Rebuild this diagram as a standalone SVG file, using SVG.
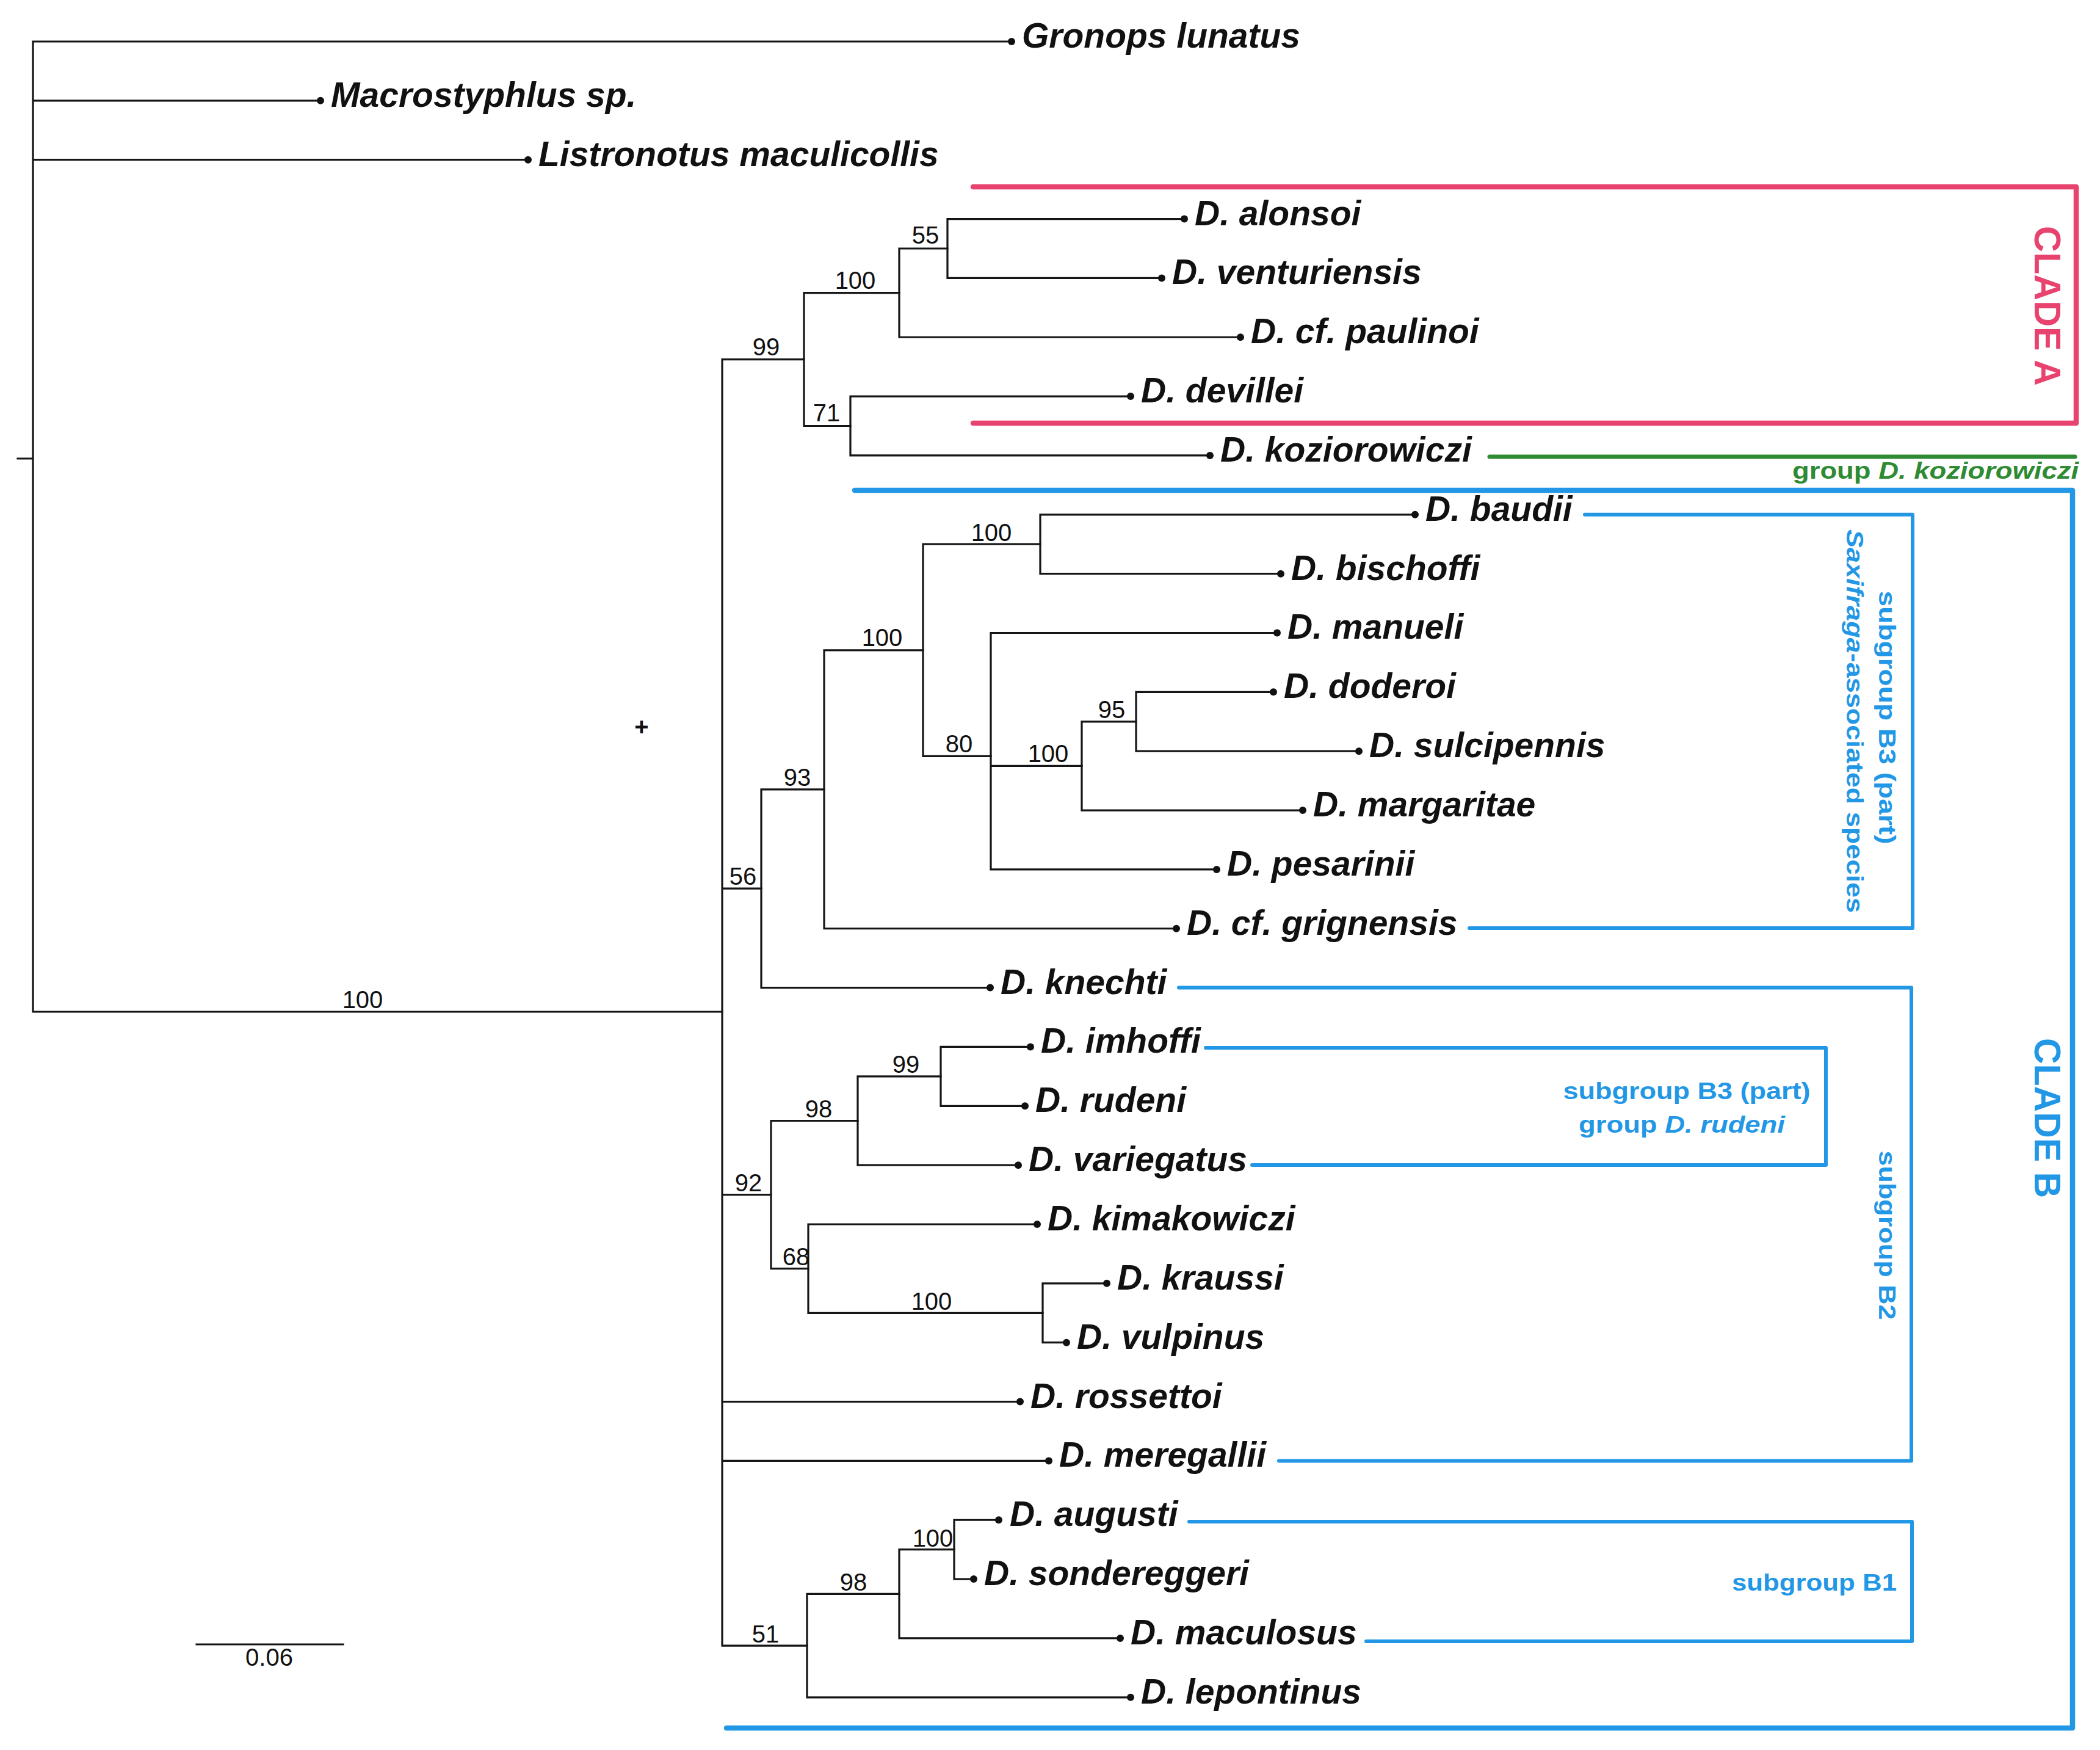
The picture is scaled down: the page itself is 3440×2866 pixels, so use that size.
<svg xmlns="http://www.w3.org/2000/svg" width="3440" height="2866" viewBox="0 0 3440 2866">
<style>
.br{fill:none;stroke:#151515;stroke-width:3.2;stroke-linecap:square}
.dot{fill:#111}
.sp{font-family:"Liberation Sans",Arial,sans-serif;font-weight:bold;font-style:italic;font-size:57px;fill:#111}
.bs{font-family:"Liberation Sans",Arial,sans-serif;font-size:40px;fill:#111;text-anchor:middle}
.cladeA{fill:none;stroke:#E8426E;stroke-width:8.5;stroke-linecap:round;stroke-linejoin:round}
.cladeB{fill:none;stroke:#2297E6;stroke-width:8.5;stroke-linecap:round;stroke-linejoin:round}
.sub{fill:none;stroke:#2297E6;stroke-width:6;stroke-linecap:round;stroke-linejoin:round}
.grn{fill:none;stroke:#2E8B34;stroke-width:7;stroke-linecap:round}
.lbl{font-family:"Liberation Sans",Arial,sans-serif;font-weight:bold;font-size:39px}
.blue{fill:#2297E6}
.green{fill:#2E8B34}
.ctitle{font-family:"Liberation Sans",Arial,sans-serif;font-weight:bold;font-size:62px;text-anchor:middle}
</style>
<rect width="3440" height="2866" fill="#fff"/>

<g id="connectors">
  <path class="br" d="M54,68 V1657 M54,68 H1657 M54,164.85 H525 M54,261.7 H865 M54,1657 H1183 M29,751 H54"/>
  <path class="br" d="M1183,588.6 V2695.1 M1183,588.6 H1317 M1183,1455.2 H1247 M1183,1956.6 H1263 M1183,2295.55 H1671 M1183,2392.4 H1718 M1183,2695.1 H1322"/>
  <path class="br" d="M1317,479.6 V697.5 M1317,479.6 H1473 M1317,697.5 H1393"/>
  <path class="br" d="M1473,407 V552.25 M1473,407 H1552 M1473,552.25 H2032"/>
  <path class="br" d="M1552,358.55 V455.4 M1552,358.55 H1940 M1552,455.4 H1903"/>
  <path class="br" d="M1393,649.1 V745.95 M1393,649.1 H1852 M1393,745.95 H1982"/>
  <path class="br" d="M1247,1292.8 V1617.6 M1247,1292.8 H1350 M1247,1617.6 H1622"/>
  <path class="br" d="M1350,1064.8 V1520.75 M1350,1064.8 H1512 M1350,1520.75 H1927"/>
  <path class="br" d="M1512,891.2 V1238.3 M1512,891.2 H1704 M1512,1238.3 H1623"/>
  <path class="br" d="M1704,842.8 V939.65 M1704,842.8 H2318 M1704,939.65 H2098"/>
  <path class="br" d="M1623,1036.5 V1423.9 M1623,1036.5 H2092 M1623,1254.4 H1772 M1623,1423.9 H1993"/>
  <path class="br" d="M1772,1181.8 V1327.05 M1772,1181.8 H1861 M1772,1327.05 H2134"/>
  <path class="br" d="M1861,1133.35 V1230.2 M1861,1133.35 H2086 M1861,1230.2 H2226"/>
  <path class="br" d="M1263,1835.5 V2077.7 M1263,1835.5 H1405 M1263,2077.7 H1324"/>
  <path class="br" d="M1405,1762.9 V1908.15 M1405,1762.9 H1541 M1405,1908.15 H1668"/>
  <path class="br" d="M1541,1714.45 V1811.3 M1541,1714.45 H1688 M1541,1811.3 H1679"/>
  <path class="br" d="M1324,2005 V2150.3 M1324,2005 H1699 M1324,2150.3 H1708"/>
  <path class="br" d="M1708,2101.85 V2198.7 M1708,2101.85 H1813 M1708,2198.7 H1747"/>
  <path class="br" d="M1322,2610.3 V2779.8 M1322,2610.3 H1473 M1322,2779.8 H1852"/>
  <path class="br" d="M1473,2537.7 V2682.95 M1473,2537.7 H1563 M1473,2682.95 H1835"/>
  <path class="br" d="M1563,2489.25 V2586.1 M1563,2489.25 H1636 M1563,2586.1 H1595"/>
</g>

<g id="tips">
  <g id="t-gronops"><circle class="dot" cx="1657" cy="68" r="6"/><text class="sp" x="1674" y="78">Gronops lunatus</text></g>
  <g id="t-macrostyphlus"><circle class="dot" cx="525" cy="164.85" r="6"/><text class="sp" x="542" y="175">Macrostyphlus sp.</text></g>
  <g id="t-listronotus"><circle class="dot" cx="865" cy="261.7" r="6"/><text class="sp" x="882" y="272">Listronotus maculicollis</text></g>
  <g id="t-alonsoi"><circle class="dot" cx="1940" cy="358.55" r="6"/><text class="sp" x="1957" y="369">D. alonsoi</text></g>
  <g id="t-venturiensis"><circle class="dot" cx="1903" cy="455.4" r="6"/><text class="sp" x="1920" y="465">D. venturiensis</text></g>
  <g id="t-paulinoi"><circle class="dot" cx="2032" cy="552.25" r="6"/><text class="sp" x="2049" y="562">D. cf. paulinoi</text></g>
  <g id="t-devillei"><circle class="dot" cx="1852" cy="649.1" r="6"/><text class="sp" x="1869" y="659">D. devillei</text></g>
  <g id="t-koziorowiczi"><circle class="dot" cx="1982" cy="745.95" r="6"/><text class="sp" x="1999" y="756">D. koziorowiczi</text></g>
  <g id="t-baudii"><circle class="dot" cx="2318" cy="842.8" r="6"/><text class="sp" x="2335" y="853">D. baudii</text></g>
  <g id="t-bischoffi"><circle class="dot" cx="2098" cy="939.65" r="6"/><text class="sp" x="2115" y="950">D. bischoffi</text></g>
  <g id="t-manueli"><circle class="dot" cx="2092" cy="1036.5" r="6"/><text class="sp" x="2109" y="1046">D. manueli</text></g>
  <g id="t-doderoi"><circle class="dot" cx="2086" cy="1133.35" r="6"/><text class="sp" x="2103" y="1143">D. doderoi</text></g>
  <g id="t-sulcipennis"><circle class="dot" cx="2226" cy="1230.2" r="6"/><text class="sp" x="2243" y="1240">D. sulcipennis</text></g>
  <g id="t-margaritae"><circle class="dot" cx="2134" cy="1327.05" r="6"/><text class="sp" x="2151" y="1337">D. margaritae</text></g>
  <g id="t-pesarinii"><circle class="dot" cx="1993" cy="1423.9" r="6"/><text class="sp" x="2010" y="1434">D. pesarinii</text></g>
  <g id="t-grignensis"><circle class="dot" cx="1927" cy="1520.75" r="6"/><text class="sp" x="1944" y="1531">D. cf. grignensis</text></g>
  <g id="t-knechti"><circle class="dot" cx="1622" cy="1617.6" r="6"/><text class="sp" x="1639" y="1628">D. knechti</text></g>
  <g id="t-imhoffi"><circle class="dot" cx="1688" cy="1714.45" r="6"/><text class="sp" x="1705" y="1724">D. imhoffi</text></g>
  <g id="t-rudeni"><circle class="dot" cx="1679" cy="1811.3" r="6"/><text class="sp" x="1696" y="1821">D. rudeni</text></g>
  <g id="t-variegatus"><circle class="dot" cx="1668" cy="1908.15" r="6"/><text class="sp" x="1685" y="1918">D. variegatus</text></g>
  <g id="t-kimakowiczi"><circle class="dot" cx="1699" cy="2005" r="6"/><text class="sp" x="1716" y="2015">D. kimakowiczi</text></g>
  <g id="t-kraussi"><circle class="dot" cx="1813" cy="2101.85" r="6"/><text class="sp" x="1830" y="2112">D. kraussi</text></g>
  <g id="t-vulpinus"><circle class="dot" cx="1747" cy="2198.7" r="6"/><text class="sp" x="1764" y="2209">D. vulpinus</text></g>
  <g id="t-rossettoi"><circle class="dot" cx="1671" cy="2295.55" r="6"/><text class="sp" x="1688" y="2306">D. rossettoi</text></g>
  <g id="t-meregallii"><circle class="dot" cx="1718" cy="2392.4" r="6"/><text class="sp" x="1735" y="2402">D. meregallii</text></g>
  <g id="t-augusti"><circle class="dot" cx="1636" cy="2489.25" r="6"/><text class="sp" x="1654" y="2499">D. augusti</text></g>
  <g id="t-sondereggeri"><circle class="dot" cx="1595" cy="2586.1" r="6"/><text class="sp" x="1612" y="2596">D. sondereggeri</text></g>
  <g id="t-maculosus"><circle class="dot" cx="1835" cy="2682.95" r="6"/><text class="sp" x="1852" y="2693">D. maculosus</text></g>
  <g id="t-lepontinus"><circle class="dot" cx="1852" cy="2779.8" r="6"/><text class="sp" x="1869" y="2790">D. lepontinus</text></g>
</g>

<g id="support">
  <text class="bs" x="594" y="1651">100</text>
  <text class="bs" x="1516" y="399">55</text>
  <text class="bs" x="1401" y="473">100</text>
  <text class="bs" x="1255" y="582">99</text>
  <text class="bs" x="1354" y="690">71</text>
  <text class="bs" x="1624" y="886">100</text>
  <text class="bs" x="1445" y="1058">100</text>
  <text class="bs" x="1571" y="1232">80</text>
  <text class="bs" x="1717" y="1248">100</text>
  <text class="bs" x="1821" y="1176">95</text>
  <text class="bs" x="1306" y="1287">93</text>
  <text class="bs" x="1217" y="1449">56</text>
  <text class="bs" x="1484" y="1757">99</text>
  <text class="bs" x="1341" y="1830">98</text>
  <text class="bs" x="1226" y="1951">92</text>
  <text class="bs" x="1304" y="2072">68</text>
  <text class="bs" x="1526" y="2145">100</text>
  <text class="bs" x="1528" y="2533">100</text>
  <text class="bs" x="1398" y="2605">98</text>
  <text class="bs" x="1254" y="2690">51</text>
  <text class="bs" x="1051" y="1204" font-size="50" font-weight="bold">+</text>
</g>

<g id="scale">
  <path class="br" d="M322,2693 H562" stroke-linecap="butt"/>
  <text class="bs" x="441" y="2728" font-size="33">0.06</text>
</g>

<g id="clade-A">
  <path class="cladeA" d="M1594,306 H3401 V693 H1594"/>
  <text class="ctitle" fill="#E8426E" transform="translate(3333,501) rotate(90)" textLength="262" lengthAdjust="spacingAndGlyphs">CLADE A</text>
</g>

<g id="group-koziorowiczi">
  <path class="grn" d="M2440,748 H3399"/>
  <text class="lbl green" x="3405" y="784" text-anchor="end" textLength="469" lengthAdjust="spacingAndGlyphs">group <tspan font-style="italic">D. koziorowiczi</tspan></text>
</g>

<g id="clade-B">
  <path class="cladeB" d="M1400,803 H3395 V2830 H1190"/>
  <text class="ctitle" fill="#2297E6" transform="translate(3333,1831) rotate(90)" textLength="262" lengthAdjust="spacingAndGlyphs">CLADE B</text>
</g>

<g id="subgroup-B3-saxifraga">
  <path class="sub" d="M2596,842.8 H3133 V1520 H2407"/>
  <text class="lbl blue" transform="translate(3078,1175) rotate(90)" text-anchor="middle" textLength="415" lengthAdjust="spacingAndGlyphs">subgroup B3 (part)</text>
  <text class="lbl blue" transform="translate(3025,1181) rotate(90)" text-anchor="middle" textLength="628" lengthAdjust="spacingAndGlyphs"><tspan font-style="italic">Saxifraga</tspan>-associated species</text>
</g>

<g id="subgroup-B2">
  <path class="sub" d="M1931,1617.6 H3131 V2392.4 H2095"/>
  <text class="lbl blue" transform="translate(3078,2023) rotate(90)" text-anchor="middle" textLength="277" lengthAdjust="spacingAndGlyphs">subgroup B2</text>
</g>

<g id="group-rudeni">
  <path class="sub" d="M1975,1716 H2991 V1908 H2051"/>
  <text class="lbl blue" x="2763" y="1800" text-anchor="middle" textLength="405" lengthAdjust="spacingAndGlyphs">subgroup B3 (part)</text>
  <text class="lbl blue" x="2755" y="1855" text-anchor="middle" textLength="338" lengthAdjust="spacingAndGlyphs">group <tspan font-style="italic">D. rudeni</tspan></text>
</g>

<g id="subgroup-B1">
  <path class="sub" d="M1948,2492 H3132 V2688 H2238"/>
  <text class="lbl blue" x="3107" y="2605" text-anchor="end" textLength="270" lengthAdjust="spacingAndGlyphs">subgroup B1</text>
</g>
</svg>
